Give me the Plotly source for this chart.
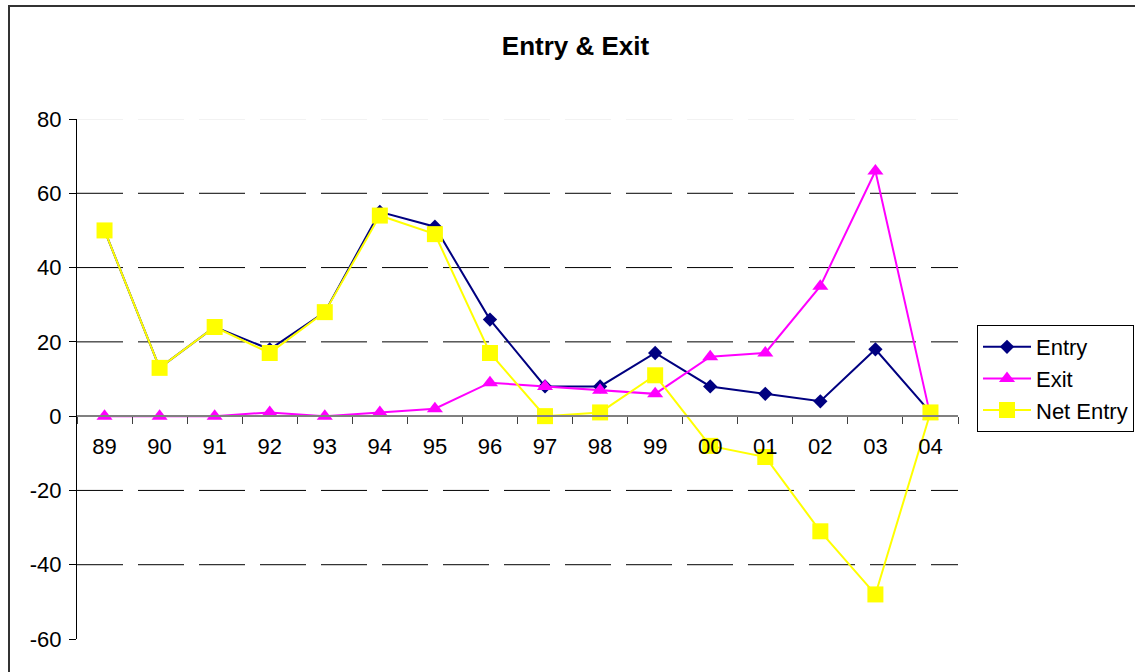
import plotly.graph_objects as go

# Years (two-digit) on the category axis
years = ["89", "90", "91", "92", "93", "94", "95", "96",
         "97", "98", "99", "00", "01", "02", "03", "04"]

# Series values per year
entry = [50, 13, 24, 18, 28, 55, 51, 26, 8, 8, 17, 8, 6, 4, 18, 1]
exit_ = [0, 0, 0, 1, 0, 1, 2, 9, 8, 7, 6, 16, 17, 35, 66, 0]
net_entry = [50, 13, 24, 17, 28, 54, 49, 17, 0, 1, 11, -8, -11, -31, -48, 1]

y_ticks = [-60, -40, -20, 0, 20, 40, 60, 80]
y_tick_text = ["-60", "-40", "-20", "0", "20", "40", "60", "80"]
y_min, y_max = -60, 80

FONT = "Arial, Liberation Sans, sans-serif"

fig = go.Figure()

fig.add_trace(go.Scatter(
    x=years, y=entry, name="Entry", mode="lines+markers",
    line=dict(color="#000080", width=2),
    marker=dict(symbol="diamond", size=11, color="#000080"),
))
fig.add_trace(go.Scatter(
    x=years, y=exit_, name="Exit", mode="lines+markers",
    line=dict(color="#FF00FF", width=2),
    marker=dict(symbol="triangle-up", size=14, color="#FF00FF"),
))
fig.add_trace(go.Scatter(
    x=years, y=net_entry, name="Net Entry", mode="lines+markers",
    line=dict(color="#FFFF00", width=2),
    marker=dict(symbol="square", size=16, color="#FFFF00"),
))

# Dashed horizontal gridlines (none at the bottom edge, none at zero)
shapes = []
for v in y_ticks:
    if v in (0, y_min):
        continue
    shapes.append(dict(
        type="line", xref="paper", yref="y", x0=0, x1=1, y0=v, y1=v,
        layer="below",
        line=dict(color="#E6E6E6" if v == y_max else "#000000",
                  width=1, dash="46px,15px"),
    ))

# Chart-area frame
L, T = 77, 119
W, H = 1135 - 77 - 177, 672 - 119 - 33
shapes.append(dict(
    type="rect", xref="paper", yref="paper",
    x0=(9 - L) / W, x1=(1140 - L) / W,
    y0=(H + T - 680) / H, y1=(H + T - 6) / H,
    line=dict(color="#333333", width=2), fillcolor="rgba(0,0,0,0)",
    layer="below",
))

fig.update_layout(
    width=1135, height=672,
    margin=dict(l=L, r=177, t=T, b=33, autoexpand=False),
    paper_bgcolor="white", plot_bgcolor="white",
    font=dict(family=FONT, size=22, color="black"),
    title=dict(text="<b>Entry & Exit</b>", x=575.5 / 1135, xref="container",
               xanchor="center", y=1 - 46 / 672, yanchor="middle",
               font=dict(family=FONT, size=26, color="black")),
    showlegend=True,
    legend=dict(x=(977 - L) / W, y=(639 - 325) / H, xanchor="left", yanchor="top",
                bordercolor="#000000", borderwidth=1, bgcolor="white",
                font=dict(family=FONT, size=22), tracegroupgap=0,
                itemwidth=48),
    shapes=shapes,
)

fig.update_xaxes(
    type="category", categoryorder="array", categoryarray=years,
    range=[-0.5, len(years) - 0.5], autorange=False,
    anchor="free", position=(0 - y_min) / (y_max - y_min),
    showline=True, linecolor="#808080", linewidth=2,
    ticks="outside", tickson="boundaries", ticklen=7, tickcolor="#404040",
    tickwidth=1, ticklabelstandoff=10,
    showgrid=False, zeroline=False,
    tickfont=dict(family=FONT, size=22, color="black"),
)
fig.update_yaxes(
    range=[y_min, y_max], tickvals=y_ticks, ticktext=y_tick_text,
    showline=True, linecolor="black", linewidth=1,
    ticks="outside", ticklen=7, tickcolor="black", ticklabelstandoff=3,
    showgrid=False, zeroline=False,
    tickfont=dict(family=FONT, size=22, color="black"),
)

fig.write_html("out.html")
